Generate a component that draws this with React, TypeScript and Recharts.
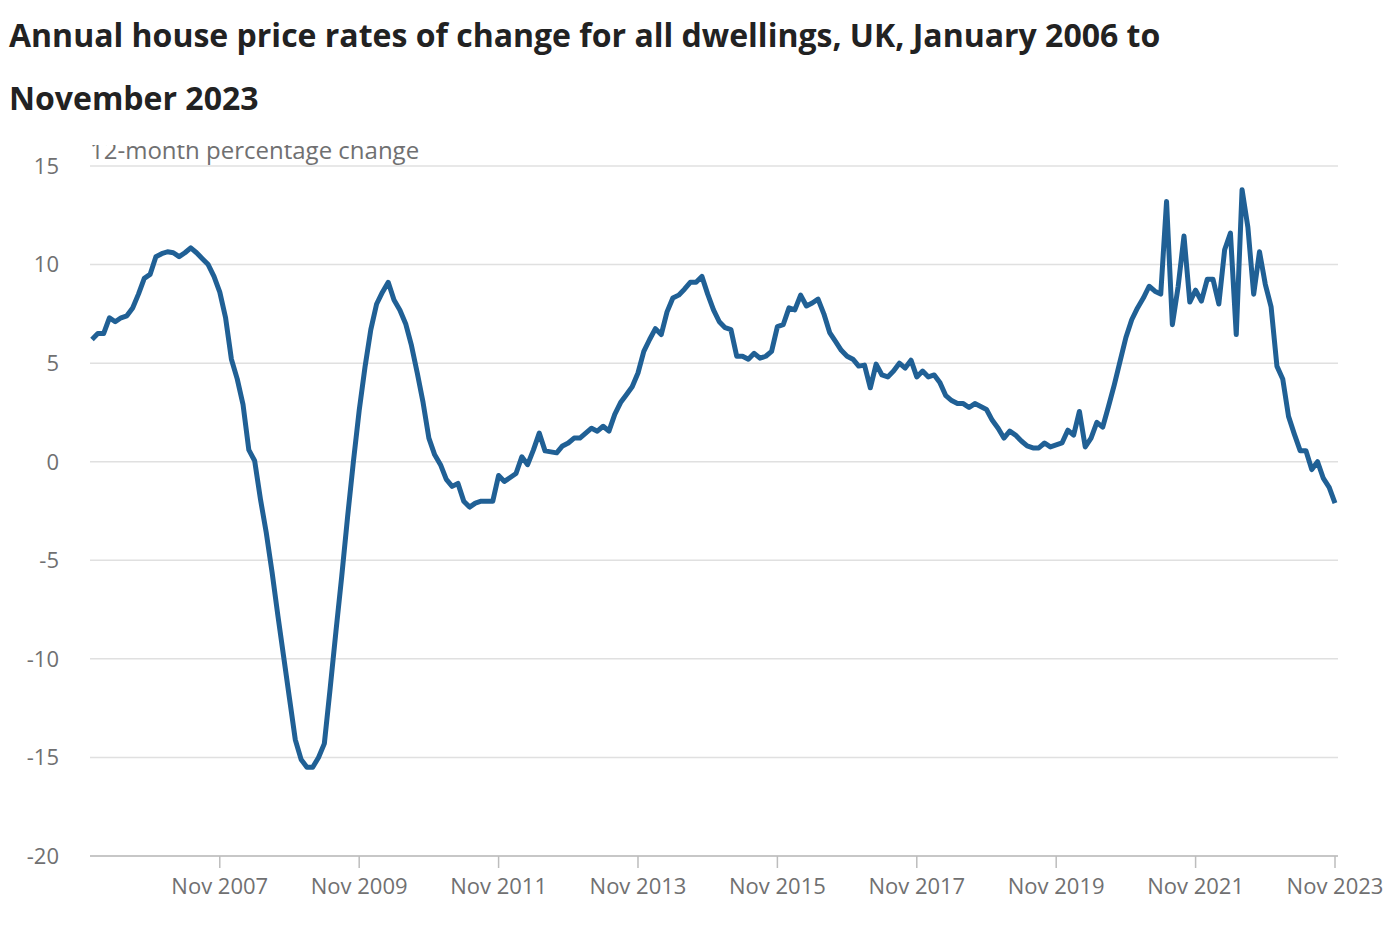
import React from 'react';
import { LineChart, Line, XAxis, YAxis, CartesianGrid } from 'recharts';

const startYear = 2006;
const monthNames = ['Jan', 'Feb', 'Mar', 'Apr', 'May', 'Jun', 'Jul', 'Aug', 'Sep', 'Oct', 'Nov', 'Dec'];

// Annual % change, Jan 2006 .. Nov 2023
const changeValues = [
  6.2, 6.5, 6.5, 7.3, 7.1, 7.3, 7.4, 7.8, 8.5, 9.3, 9.5, 10.4,
  10.55, 10.65, 10.6, 10.4, 10.6, 10.85, 10.6, 10.3, 10.0, 9.4, 8.6, 7.3,
  5.2, 4.2, 2.9, 0.6, 0.05, -1.9, -3.6, -5.6, -7.8, -9.9, -12.0, -14.1,
  -15.1, -15.5, -15.5, -15.0, -14.3, -11.5, -8.6, -5.8, -2.8, 0.0, 2.6, 4.8,
  6.7, 8.0, 8.6, 9.1, 8.2, 7.7, 7.0, 5.9, 4.5, 3.0, 1.2, 0.35,
  -0.15, -0.9, -1.25, -1.1, -2.0, -2.3, -2.1, -2.0, -2.0, -2.0, -0.7, -1.0,
  -0.8, -0.6, 0.25, -0.15, 0.6, 1.45, 0.55, 0.5, 0.45, 0.8, 0.95, 1.2,
  1.2, 1.45, 1.7, 1.55, 1.8, 1.55, 2.4, 3.0, 3.4, 3.8, 4.5, 5.6,
  6.2, 6.75, 6.45, 7.6, 8.3, 8.45, 8.75, 9.1, 9.1, 9.4, 8.5, 7.7,
  7.1, 6.8, 6.7, 5.35, 5.35, 5.2, 5.5, 5.25, 5.35, 5.6, 6.85, 6.95,
  7.8, 7.7, 8.45, 7.9, 8.05, 8.25, 7.5, 6.55, 6.1, 5.65, 5.35, 5.2,
  4.85, 4.9, 3.75, 4.95, 4.4, 4.3, 4.6, 5.0, 4.75, 5.15, 4.3, 4.6,
  4.3, 4.4, 4.0, 3.35, 3.1, 2.95, 2.95, 2.75, 2.95, 2.8, 2.65, 2.1,
  1.7, 1.2, 1.55, 1.35, 1.05, 0.8, 0.7, 0.7, 0.95, 0.75, 0.85, 0.95,
  1.6, 1.35, 2.55, 0.75, 1.2, 2.0, 1.75, 2.8, 3.9, 5.1, 6.3, 7.2,
  7.8, 8.3, 8.9, 8.65, 8.5, 13.2, 6.95, 8.9, 11.45, 8.1, 8.7, 8.15,
  9.25, 9.25, 8.0, 10.75, 11.6, 6.45, 13.8, 11.9, 8.5, 10.65, 9.0, 7.85,
  4.85, 4.2, 2.3, 1.4, 0.56, 0.56, -0.4, 0.0, -0.85, -1.3, -2.1,
];

const xTickIndices = [22, 46, 70, 94, 118, 142, 166, 190, 214];
const xTickLabels = ['Nov 2007', 'Nov 2009', 'Nov 2011', 'Nov 2013', 'Nov 2015', 'Nov 2017', 'Nov 2019', 'Nov 2021', 'Nov 2023'];
const yTicks = [-20, -15, -10, -5, 0, 5, 10, 15];

const data = changeValues.map((v, i) => ({
  i,
  month: `${monthNames[i % 12]} ${startYear + Math.floor(i / 12)}`,
  v,
}));

const FONT = '"Open Sans", sans-serif';
const GREY = '#707071';

export default function App() {
  return (
    <div style={{ position: 'absolute', left: 0, top: 0, width: 1398, height: 934, background: '#fff', overflow: 'hidden' }}>
      <svg style={{ position: 'absolute', left: 0, top: 0 }} width={1398} height={130}>
        <text x={9} y={47} fontFamily={FONT} fontWeight={700} fontSize={32} fill="#222222">
          Annual house price rates of change for all dwellings, UK, January 2006 to
        </text>
        <text x={9} y={110} fontFamily={FONT} fontWeight={700} fontSize={32} fill="#222222">
          November 2023
        </text>
      </svg>
      <div style={{ position: 'absolute', left: 0, top: 0 }}>
        <LineChart width={1398} height={934} data={data} margin={{ top: 166, right: 60, bottom: 0, left: 0 }}>
          <CartesianGrid vertical={false} stroke="#e0e0e0" strokeWidth={1.5} />
          <XAxis
            dataKey="i"
            type="number"
            domain={[0, 214]}
            ticks={xTickIndices}
            interval={0}
            tickFormatter={(v: number) => xTickLabels[xTickIndices.indexOf(v)] ?? ''}
            height={78}
            padding={{ left: 2, right: 3 }}
            axisLine={{ stroke: '#bdbdbd', strokeWidth: 1.5 }}
            tickLine={{ stroke: '#bdbdbd', strokeWidth: 1.5 }}
            tickSize={12}
            tickMargin={10}
            tick={{ fill: GREY, fontSize: 22, fontFamily: FONT }}
          />
          <YAxis
            type="number"
            domain={[-20, 15]}
            ticks={yTicks}
            interval={0}
            width={90}
            axisLine={false}
            tickLine={false}
            tickSize={6}
            tickMargin={25}
            tick={{ fill: GREY, fontSize: 22, fontFamily: FONT }}
          />
          <Line
            type="linear"
            dataKey="v"
            stroke="#206095"
            strokeWidth={5}
            dot={false}
            isAnimationActive={false}
            strokeLinejoin="round"
          />
        </LineChart>
      </div>
      <svg style={{ position: 'absolute', left: 88, top: 145 }} width={380} height={22}>
        <text x={2} y={14} fontFamily={FONT} fontSize={24} fill={GREY}>
          12-month percentage change
        </text>
      </svg>
    </div>
  );
}
